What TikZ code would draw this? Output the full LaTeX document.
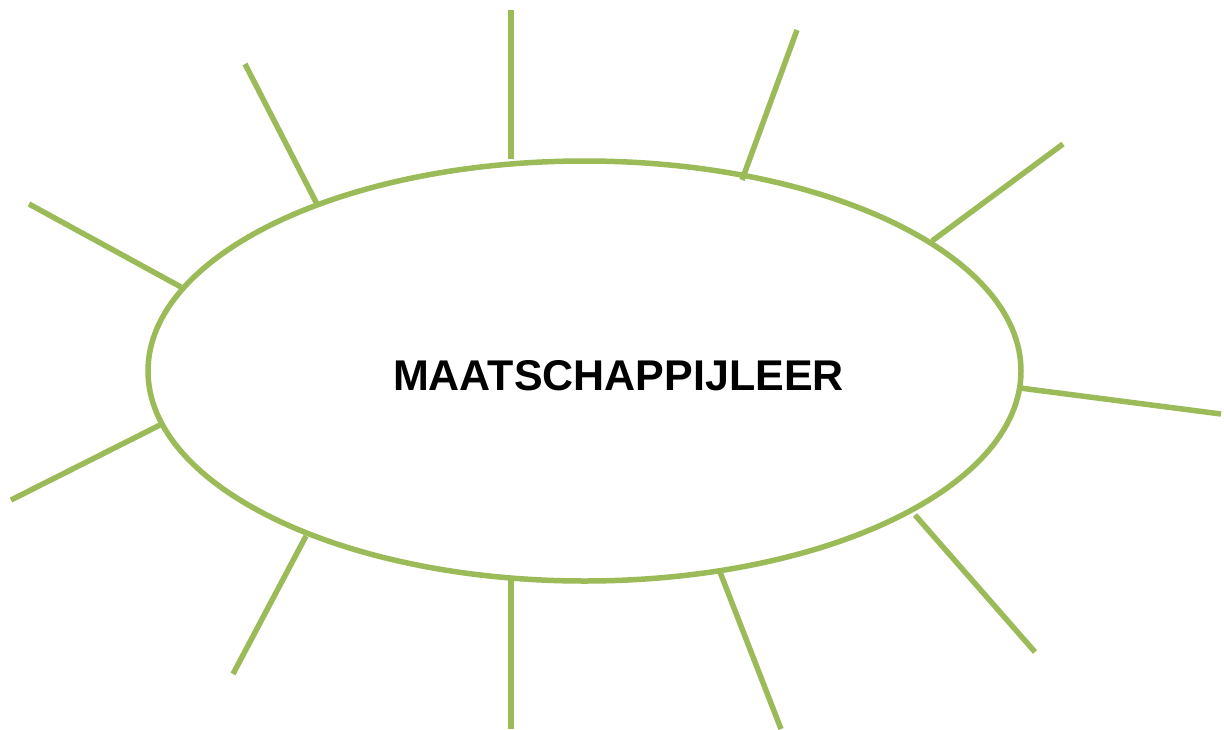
\documentclass[tikz,border=0pt]{standalone}
\usepackage{fontspec}
\setmainfont{Liberation Sans}
\usetikzlibrary{shapes.geometric}
\definecolor{ogreen}{HTML}{9BBB59}
\begin{document}
\begin{tikzpicture}[x=1pt,y=-1pt,
  spoke/.style={draw=ogreen,line width=5.5pt},
  oval/.style={ellipse,draw=ogreen,line width=5.5pt,minimum width=873pt,minimum height=420pt,inner sep=0pt}]
\useasboundingbox (0,0) rectangle (1224,729);
\node[oval] (e) at (584.5,371) {};
\node[font=\bfseries\fontsize{43}{48}\selectfont] (t) at (618.5,376) {MAATSCHAPPIJLEER};
\coordinate (a1) at (511,10);   \coordinate (b1) at (511,159);
\coordinate (a2) at (245,64);   \coordinate (b2) at (318,206);
\coordinate (a3) at (797,30);   \coordinate (b3) at (742,180);
\coordinate (a4) at (1063,144); \coordinate (b4) at (932,241);
\coordinate (a5) at (29,204);   \coordinate (b5) at (181,287);
\coordinate (a6) at (1221,414); \coordinate (b6) at (1020,388);
\coordinate (a7) at (11,500);   \coordinate (b7) at (160,425);
\coordinate (a8) at (1035,652); \coordinate (b8) at (915,515);
\coordinate (a9) at (233,674);  \coordinate (b9) at (306,536);
\coordinate (a10) at (511,729); \coordinate (b10) at (511,580);
\coordinate (a11) at (781,729); \coordinate (b11) at (720,572);
\foreach \i in {1,...,11} \draw[spoke] (a\i) -- (b\i);
\end{tikzpicture}
\end{document}
